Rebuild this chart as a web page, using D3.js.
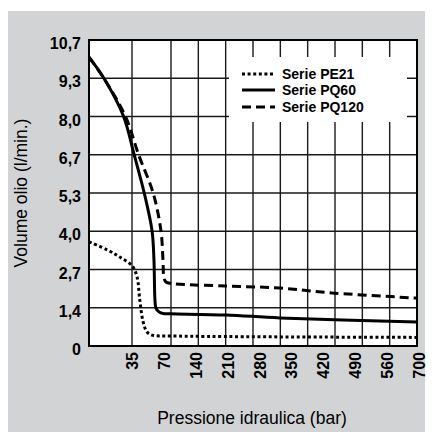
<!DOCTYPE html>
<html>
<head>
<meta charset="utf-8">
<script src="https://cdn.jsdelivr.net/npm/d3@7"></script>
<style>
  body { margin: 0; background: #fff; }
  svg { display: block; font-family: "Liberation Sans", Arial, sans-serif; }
</style>
</head>
<body>
<div id="chart"></div>
<script>
// Data (pressure in bar, oil volume in l/min)
const pe21X = [0, 15, 25, 35, 39.5, 42, 45, 48.5, 53, 70, 700];
const pe21Y = [3.63, 3.35, 3.1, 2.8, 2.41, 1.6, 0.84, 0.49, 0.38, 0.35, 0.30];

const pq60X = [0, 12, 28, 37, 46, 53, 54.7, 55.6, 56.5, 59.2, 63, 70, 211, 349, 700];
const pq60Y = [10.07, 9.34, 8.02, 6.66, 5.33, 4.01, 3.0, 1.6, 1.32, 1.19, 1.13, 1.12, 1.08, 0.98, 0.84];

const pq120X = [0, 12, 29.5, 41, 54, 61, 62.8, 63.7, 65.5, 70, 211, 349, 482, 700];
const pq120Y = [10.07, 9.34, 8.02, 6.66, 5.33, 4.01, 3.0, 2.37, 2.23, 2.18, 2.09, 2.02, 1.85, 1.67];

const xGridValues = [35, 70, 140, 210, 280, 350, 420, 490, 560, 630, 700];
const xTickLabels = ["35", "70", "140", "210", "280", "350", "420", "490", "560", "700"];
const yTickLabels = ["0", "1,4", "2,7", "4,0", "5,3", "6,7", "8,0", "9,3", "10,7"];
const seriesNames = ["Serie PE21", "Serie PQ60", "Serie PQ120"];

const width = 435, height = 432;
const plot = { left: 89, top: 40, right: 417, bottom: 346 };
const yMax = 32 / 3;

const svg = d3.select("#chart").append("svg")
    .attr("width", width)
    .attr("height", height);

// gray panel behind everything
svg.append("rect")
    .attr("x", 8).attr("y", 11)
    .attr("width", 417).attr("height", height - 11)
    .attr("fill", "#d2d3d5");

// the x axis is stretched below 70 bar
const x = d3.scaleLinear()
    .domain([0, 35, 70, 700])
    .range([plot.left, 132, 171, plot.right]);

const y = d3.scaleLinear()
    .domain([0, yMax])
    .range([plot.bottom, plot.top]);

// tick labels are spread evenly, they do not sit on the grid
const xLabel = d3.scalePoint()
    .domain(xTickLabels)
    .range([132, 419]);

const yTicks = yTickLabels.map((d, i) => i * yMax / (yTickLabels.length - 1));

svg.append("rect")
    .attr("x", plot.left).attr("y", plot.top)
    .attr("width", plot.right - plot.left)
    .attr("height", plot.bottom - plot.top)
    .attr("fill", "#fff");

// Grid
const grid = svg.append("g")
    .attr("stroke", "#1a1a1a")
    .attr("stroke-width", 1.4);

grid.selectAll(".vgrid")
    .data(xGridValues)
    .enter().append("line")
    .attr("x1", d => x(d)).attr("x2", d => x(d))
    .attr("y1", plot.top).attr("y2", plot.bottom);

grid.selectAll(".hgrid")
    .data(yTicks.slice(1))
    .enter().append("line")
    .attr("x1", plot.left).attr("x2", plot.right)
    .attr("y1", d => y(d)).attr("y2", d => y(d));

// Frame
svg.append("rect")
    .attr("x", plot.left).attr("y", plot.top)
    .attr("width", plot.right - plot.left)
    .attr("height", plot.bottom - plot.top)
    .attr("fill", "none")
    .attr("stroke", "#000")
    .attr("stroke-width", 2);

// Legend box hides the grid behind it
svg.append("rect")
    .attr("x", 229).attr("y", 57)
    .attr("width", 178).attr("height", 65)
    .attr("fill", "#fff");

const styles = [
    { dash: "3,2.6", width: 3 },
    { dash: null, width: 3 },
    { dash: "9,5", width: 3 }
];

const series = [
    d3.zip(pe21X, pe21Y),
    d3.zip(pq60X, pq60Y),
    d3.zip(pq120X, pq120Y)
];

const line = d3.line()
    .x(d => x(d[0]))
    .y(d => y(d[1]))
    .curve(d3.curveCatmullRom.alpha(0.5));

svg.append("g").selectAll("path")
    .data(series)
    .enter().append("path")
    .attr("d", line)
    .attr("fill", "none")
    .attr("stroke", "#000")
    .attr("stroke-width", (d, i) => styles[i].width)
    .attr("stroke-dasharray", (d, i) => styles[i].dash);

// Legend
const legend = svg.append("g");
const legendRows = [74, 90, 107];

legend.selectAll("line")
    .data(seriesNames)
    .enter().append("line")
    .attr("x1", 242).attr("x2", 275)
    .attr("y1", (d, i) => legendRows[i]).attr("y2", (d, i) => legendRows[i])
    .attr("stroke", "#000")
    .attr("stroke-width", (d, i) => styles[i].width)
    .attr("stroke-dasharray", (d, i) => styles[i].dash);

legend.selectAll("text")
    .data(seriesNames)
    .enter().append("text")
    .attr("x", 282)
    .attr("y", (d, i) => legendRows[i] + 5)
    .attr("font-size", 14)
    .attr("font-weight", "bold")
    .text(d => d);

// Y tick labels
svg.append("g").selectAll("text")
    .data(yTicks)
    .enter().append("text")
    .attr("x", 81)
    .attr("y", d => y(d) + 9)
    .attr("text-anchor", "end")
    .attr("font-size", 16)
    .attr("font-weight", "bold")
    .text((d, i) => yTickLabels[i]);

// X tick labels, rotated
svg.append("g").selectAll("text")
    .data(xTickLabels)
    .enter().append("text")
    .attr("transform", d => `translate(${xLabel(d) + 6},352) rotate(-90)`)
    .attr("text-anchor", "end")
    .attr("font-size", 16)
    .attr("font-weight", "bold")
    .text(d => d);

// Axis titles
svg.append("text")
    .attr("transform", `translate(27,${(plot.top + plot.bottom) / 2}) rotate(-90)`)
    .attr("text-anchor", "middle")
    .attr("font-size", 17.5)
    .text("Volume olio (l/min.)");

svg.append("text")
    .attr("x", 252)
    .attr("y", 424)
    .attr("text-anchor", "middle")
    .attr("font-size", 17.5)
    .text("Pressione idraulica (bar)");
</script>
</body>
</html>
